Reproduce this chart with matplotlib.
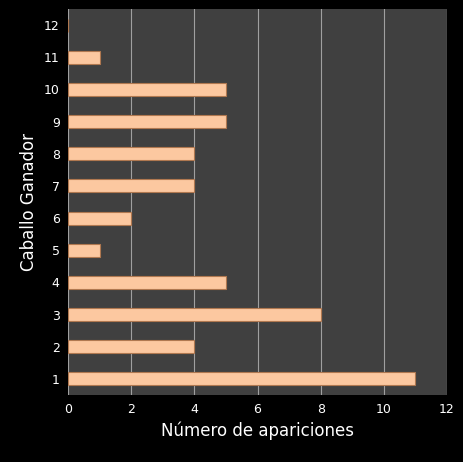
import matplotlib
matplotlib.use("Agg")
import matplotlib.pyplot as plt

caballos = list(range(1, 13))
apariciones = [11, 4, 8, 5, 1, 2, 4, 4, 5, 5, 1, 0]
xticks = [0, 2, 4, 6, 8, 10, 12]

fig = plt.figure(figsize=(4.63, 4.62), dpi=100, facecolor="black")
ax = fig.add_axes([68/463, 1-395/462, (447-68)/463, (395-9)/462])
ax.set_facecolor("#404040")
ax.barh(caballos, apariciones, height=0.4, color="#fcc8a0", edgecolor="#b07850", linewidth=0.8, zorder=3)
ax.set_xlim(0, 12)
ax.set_ylim(0.5, 12.5)
ax.set_xticks(xticks)
ax.set_yticks(caballos)
ax.grid(axis="x", color="#a0a0a0", linewidth=0.8, zorder=0)
for s in ax.spines.values():
    s.set_visible(False)
ax.tick_params(colors="white", labelsize=9, length=0, pad=6)
ax.set_xlabel("Número de apariciones", color="white", fontsize=12)
ax.set_ylabel("Caballo Ganador", color="white", fontsize=12)
fig.savefig("out.png", dpi=100, facecolor="black")
